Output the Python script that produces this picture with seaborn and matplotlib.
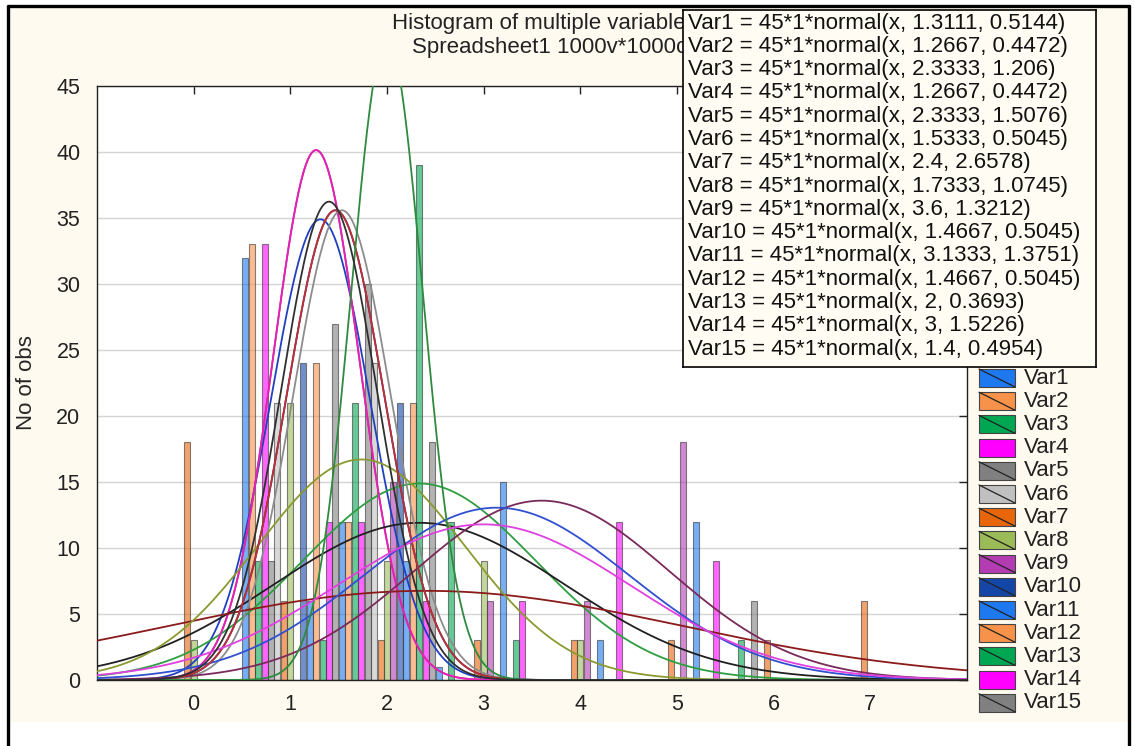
import numpy as np
import pandas as pd
import seaborn as sns
import matplotlib.pyplot as plt
from matplotlib.patches import Rectangle
from matplotlib.lines import Line2D

# data: counts per value (0..7) for each variable
values = [0, 1, 2, 3, 4, 5, 6, 7]
var_names = [f'Var{i}' for i in range(1, 16)]
var1 = [0, 32, 12, 1, 0, 0, 0, 0]
var2 = [0, 33, 12, 0, 0, 0, 0, 0]
var3 = [0, 9, 21, 12, 0, 0, 3, 0]
var4 = [0, 33, 12, 0, 0, 0, 0, 0]
var5 = [0, 9, 30, 0, 0, 0, 6, 0]
var6 = [0, 21, 24, 0, 0, 0, 0, 0]
var7 = [18, 6, 3, 3, 3, 3, 3, 6]
var8 = [3, 21, 9, 9, 3, 0, 0, 0]
var9 = [0, 0, 15, 6, 6, 18, 0, 0]
var10 = [0, 24, 21, 0, 0, 0, 0, 0]
var11 = [0, 6, 9, 15, 3, 12, 0, 0]
var12 = [0, 24, 21, 0, 0, 0, 0, 0]
var13 = [0, 3, 39, 3, 0, 0, 0, 0]
var14 = [0, 12, 6, 6, 12, 9, 0, 0]
var15 = [0, 27, 18, 0, 0, 0, 0, 0]
counts = [var1, var2, var3, var4, var5, var6, var7, var8,
          var9, var10, var11, var12, var13, var14, var15]

# fitted normal parameters (from the fit text box)
means = [1.3111, 1.2667, 2.3333, 1.2667, 2.3333, 1.5333, 2.4, 1.7333,
         3.6, 1.4667, 3.1333, 1.4667, 2, 3, 1.4]
sds = [0.5144, 0.4472, 1.206, 0.4472, 1.5076, 0.5045, 2.6578, 1.0745,
       1.3212, 0.5045, 1.3751, 0.5045, 0.3693, 1.5226, 0.4954]
n_obs = 45

x_ticks = [0, 1, 2, 3, 4, 5, 6, 7]
y_ticks = [0, 5, 10, 15, 20, 25, 30, 35, 40, 45]

fill_colors = ['#1E78F0', '#F7924A', '#00A651', '#FF00FF', '#808080',
               '#C0C0C0', '#E8650A', '#9BBB59', '#B33CB3', '#1446A8',
               '#1E78F0', '#F7924A', '#00A651', '#FF00FF', '#808080']
line_colors = ['#2040C0', '#D04040', '#2E9E40', '#E020C0', '#202020',
               '#8C8C8C', '#8B1A1A', '#8A9A30', '#7A2A5A', '#1A2A90',
               '#3050D0', '#C03030', '#2E8B3E', '#E040E0', '#303030']

sns.set_style('white')
plt.rcParams['font.family'] = ['Liberation Sans', 'DejaVu Sans']
FS_TICK = 15.5
FS_BOX = 16
FS_LEG = 16

W, H = 1135, 746
cream = '#FFFAF0'
fig = plt.figure(figsize=(W / 100, H / 100), dpi=100, facecolor='white')

# cream background with black frame
fig.patches.append(Rectangle((8 / W, 1 - 722 / H), 1121 / W, 716 / H,
                             transform=fig.transFigure, facecolor=cream,
                             edgecolor='none', zorder=0))
for xs_, ys_ in [([8, 8], [6, 746]), ([8, 1129], [6, 6]), ([1129, 1129], [6, 746])]:
    fig.lines.append(Line2D([x / W for x in xs_], [1 - y / H for y in ys_],
                            transform=fig.transFigure, color='black', lw=2.4))

ax = fig.add_axes([97 / W, 1 - 680 / H, 870 / W, 594 / H])
ax.set_facecolor('white')
ax.set_zorder(1)

nv = len(var_names)
bw = 1 / nv
for i, (name, c) in enumerate(zip(var_names, counts)):
    pos = [v - 0.5 + (i + 0.5) * bw for v in values]
    ax.bar(pos, c, width=bw * 0.92, color=fill_colors[i], alpha=0.6,
           edgecolor='#333333', linewidth=0.8, zorder=2)

xs = np.linspace(-1, 8, 700)
for i in range(nv):
    ys = n_obs * np.exp(-0.5 * ((xs - means[i]) / sds[i]) ** 2) / (sds[i] * np.sqrt(2 * np.pi))
    sns.lineplot(x=xs, y=ys, color=line_colors[i], linewidth=1.3, ax=ax, zorder=3)

ax.set_xlim(-1, 8)
ax.set_ylim(0, 45)
ax.set_xticks(x_ticks)
ax.set_yticks(y_ticks)
ax.yaxis.grid(True, color='#D4D4D4', linewidth=1, zorder=0)
ax.set_axisbelow(True)
ax.tick_params(direction='in', length=6, width=1, top=True, right=True,
               labelsize=FS_TICK, colors='#222222')
ax.tick_params(axis='x', pad=10)
ax.tick_params(axis='y', pad=12)
for s in ax.spines.values():
    s.set_color('#222222')
    s.set_linewidth(1)
ax.set_ylabel('No of obs', fontsize=FS_LEG, labelpad=14)
ax.set_xlabel('')

# title (partly hidden by the fit box)
fig.text(392 / W, 1 - 23 / H, 'Histogram of multiple variables', fontsize=FS_BOX,
         ha='left', va='center', color='#222222', zorder=1)
fig.text(412 / W, 1 - 47 / H, 'Spreadsheet1 1000v*1000c', fontsize=FS_BOX,
         ha='left', va='center', color='#222222', zorder=1)

# fit text box
bx = fig.add_axes([683 / W, 1 - 367 / H, 413 / W, 357 / H])
bx.set_zorder(6)
bx.set_facecolor('#FFFDF3')
bx.set_xlim(0, 413)
bx.set_ylim(357, 0)
bx.set_xticks([])
bx.set_yticks([])
for s in bx.spines.values():
    s.set_color('black')
    s.set_linewidth(1.2)
for k, name in enumerate(var_names):
    bx.text(5, 13 + 23.3 * k,
            f'{name} = {n_obs}*1*normal(x, {means[k]:g}, {sds[k]:g})',
            fontsize=FS_BOX, ha='left', va='center', color='#111111')

# variable legend
lx = fig.add_axes([968 / W, 1 - 722 / H, 142 / W, 355 / H])
lx.set_zorder(5)
lx.set_xlim(0, 142)
lx.set_ylim(355, 0)
lx.axis('off')
for k, name in enumerate(var_names):
    yc = 11 + 23.2 * k
    lx.add_patch(Rectangle((11, yc - 9), 36, 18, facecolor=fill_colors[k],
                           edgecolor='#444444', linewidth=0.8))
    if fill_colors[k] != '#FF00FF':
        lx.plot([11, 47], [yc - 9, yc + 9], color='#222222', lw=0.9)
    lx.text(56, yc, name, fontsize=FS_LEG, ha='left', va='center', color='#222222')

fig.savefig('out.png', dpi=100, facecolor=fig.get_facecolor())
